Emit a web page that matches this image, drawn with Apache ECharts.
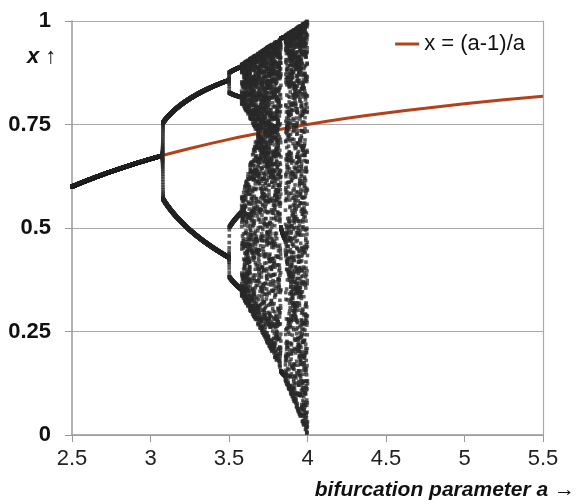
<!DOCTYPE html>
<html>
<head>
<meta charset="utf-8">
<script src="https://cdn.jsdelivr.net/npm/echarts@6/dist/echarts.min.js"></script>
<style>
  html, body { margin: 0; padding: 0; background: #fff; }
  #chart { width: 578px; height: 504px; }
</style>
</head>
<body>
<div id="chart"></div>
<script>
// x = (a-1)/a, every 0.25
const curveA = [2.5, 2.75, 3, 3.25, 3.5, 3.75, 4, 4.25, 4.5, 4.75, 5, 5.25, 5.5]
const curveX = [0.6, 0.636, 0.667, 0.692, 0.714, 0.733, 0.75, 0.765, 0.778, 0.789, 0.8, 0.81, 0.818]

// logistic map x -> a*x*(1-x), a ramped slowly from aStart to aEnd
// (the slow ramp is what delays the splits to ~3.08 and ~3.49 as in the picture)
const aStart = 2.5
const aEnd = 4
const x0 = 0.6
const rampSteps = 16000

function runMap(steps) {
  const pts = []
  let x = x0
  for (let n = 0; n <= steps; n++) {
    const a = aStart + (aEnd - aStart) * n / steps
    pts.push([a, x])
    x = a * x * (1 - x)
  }
  return pts
}

const points = runMap(rampSteps)

const chart = echarts.init(document.getElementById('chart'))
const font = '"Liberation Sans", Arial, sans-serif'
chart.setOption({
  animation: false,
  grid: { left: 72, right: 35, top: 21, bottom: 69 },
  legend: {
    data: ['x = (a-1)/a'],
    right: 48,
    top: 28,
    icon: 'rect',
    itemWidth: 24,
    itemHeight: 3,
    itemGap: 7,
    textStyle: { fontFamily: font, fontSize: 22, color: '#111' }
  },
  xAxis: {
    type: 'value',
    min: 2.5,
    max: 5.5,
    interval: 0.5,
    axisLine: { lineStyle: { color: '#999', width: 1.5 } },
    axisTick: { show: true, length: 7, lineStyle: { color: '#999' } },
    splitLine: { show: false },
    axisLabel: {
      margin: 13,
      fontFamily: font,
      fontSize: 22,
      color: '#222',
      formatter: v => String(v)
    }
  },
  yAxis: [{
    type: 'value',
    min: 0,
    max: 1,
    interval: 0.25,
    axisLine: { show: true, lineStyle: { color: '#999', width: 1.5 } },
    axisTick: { show: true, length: 7, lineStyle: { color: '#999' } },
    splitLine: { lineStyle: { color: '#aaa', width: 1.2 } },
    axisLabel: {
      margin: 21,
      fontFamily: font,
      fontSize: 22,
      fontWeight: 'bold',
      color: '#111',
      formatter: v => String(v)
    }
  }, {
    type: 'value',
    min: 0,
    max: 1,
    position: 'right',
    axisLine: { show: true, lineStyle: { color: '#aaa', width: 1.2 } },
    axisTick: { show: false },
    axisLabel: { show: false },
    splitLine: { show: false }
  }],
  graphic: [
    {
      type: 'text', left: 27, top: 46,
      style: { text: 'x ↑', font: 'italic bold 22px "Liberation Sans", Arial', fill: '#111' }
    },
    {
      type: 'text', right: 3, top: 480,
      style: { text: 'bifurcation parameter a →', font: 'italic bold 21px "Liberation Sans", Arial', fill: '#111' }
    }
  ],
  series: [
    {
      name: 'x = (a-1)/a',
      type: 'line',
      data: curveA.map((a, i) => [a, curveX[i]]),
      smooth: 0.3,
      showSymbol: false,
      lineStyle: { color: '#b3421c', width: 3 },
      itemStyle: { color: '#b3421c' },
      z: 2
    },
    {
      name: 'map',
      type: 'scatter',
      data: points,
      symbolSize: 3.6,
      large: true,
      largeThreshold: 2000,
      progressive: 0,
      itemStyle: { color: '#2a2a2a', opacity: 0.75 },
      z: 3
    }
  ]
})
</script>
</body>
</html>
